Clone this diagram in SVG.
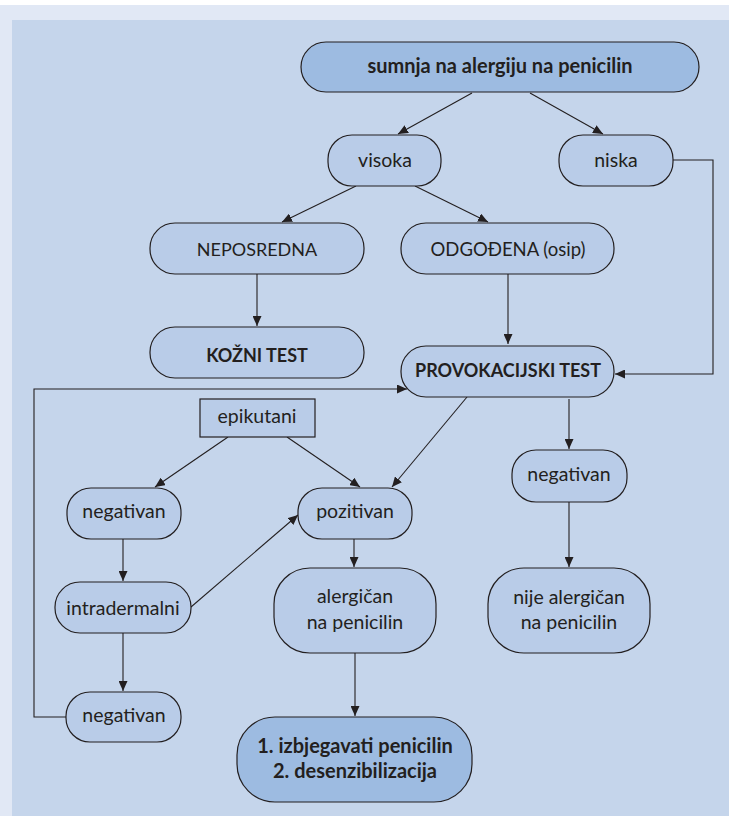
<svg xmlns="http://www.w3.org/2000/svg" width="729" height="816" viewBox="0 0 729 816">
<style>
.n{fill:#b9cce8;stroke:#231f20;stroke-width:1.2}
.d{fill:#9dbbe1;stroke:#231f20;stroke-width:1.2}
.t{font-family:Lato,"Open Sans",sans-serif;font-size:19.5px;fill:#231f20;text-anchor:middle}
.k{font-size:18px}
.b{font-weight:bold;font-size:20px}
.kb{font-weight:bold;font-size:18px}
.c{fill:none;stroke:#231f20;stroke-width:1.1}
</style>
<defs>
<marker id="a" markerUnits="userSpaceOnUse" markerWidth="11" markerHeight="9" refX="10" refY="4.5" orient="auto">
<path d="M0,0 L10,4.5 L0,9 z" fill="#231f20"/>
</marker>
</defs>
<rect x="0" y="0" width="729" height="816" fill="#ffffff"/>
<rect x="0" y="5" width="729" height="811" fill="#e1e8f5"/>
<rect x="12" y="20" width="717" height="796" fill="#c5d5eb"/>

<g id="connectors">
<line class="c" x1="472" y1="93" x2="398" y2="134" marker-end="url(#a)"/>
<line class="c" x1="530" y1="93" x2="603" y2="134" marker-end="url(#a)"/>
<polyline class="c" points="673,160 713,160 713,374 615,374" marker-end="url(#a)"/>
<line class="c" x1="356" y1="186" x2="282" y2="222" marker-end="url(#a)"/>
<line class="c" x1="415" y1="186" x2="488" y2="222" marker-end="url(#a)"/>
<line class="c" x1="257" y1="274" x2="257" y2="326" marker-end="url(#a)"/>
<line class="c" x1="508" y1="274" x2="508" y2="344" marker-end="url(#a)"/>
<polyline class="c" points="66,717 34,717 34,389 407,389" marker-end="url(#a)"/>
<line class="c" x1="228" y1="437" x2="155" y2="487" marker-end="url(#a)"/>
<line class="c" x1="287" y1="437" x2="360" y2="487" marker-end="url(#a)"/>
<line class="c" x1="467" y1="397" x2="392" y2="487" marker-end="url(#a)"/>
<line class="c" x1="569" y1="399" x2="569" y2="449" marker-end="url(#a)"/>
<line class="c" x1="123" y1="539" x2="123" y2="581" marker-end="url(#a)"/>
<line class="c" x1="191" y1="607" x2="298" y2="515" marker-end="url(#a)"/>
<line class="c" x1="354" y1="539" x2="354" y2="567" marker-end="url(#a)"/>
<line class="c" x1="123" y1="633" x2="123" y2="691" marker-end="url(#a)"/>
<line class="c" x1="569" y1="502" x2="569" y2="567" marker-end="url(#a)"/>
<line class="c" x1="355" y1="653" x2="355" y2="716" marker-end="url(#a)"/>
</g>

<g id="sumnja"><rect class="d" x="301" y="42" width="398" height="50" rx="25"/><text class="t b" x="500" y="73">sumnja na alergiju na penicilin</text></g>
<g id="visoka"><rect class="n" x="328" y="135" width="113" height="51" rx="24"/><text class="t" x="385" y="167">visoka</text></g>
<g id="niska"><rect class="n" x="559" y="135" width="114" height="51" rx="24"/><text class="t" x="616" y="167">niska</text></g>
<g id="neposredna"><rect class="n" x="150" y="223" width="214" height="51" rx="25"/><text class="t k" x="257" y="256">NEPOSREDNA</text></g>
<g id="odgodena"><rect class="n" x="401" y="223" width="213" height="51" rx="25"/><text class="t" x="508" y="256" style="font-size:18.5px">ODGOĐENA (osip)</text></g>
<g id="kozni"><rect class="n" x="150" y="327" width="214" height="51" rx="25"/><text class="t kb" x="257" y="362">KOŽNI TEST</text></g>
<g id="provokacijski"><rect class="n" x="401" y="346" width="213" height="51" rx="25"/><text class="t kb" x="508" y="377">PROVOKACIJSKI TEST</text></g>
<g id="epikutani"><rect class="n" x="200" y="399" width="115" height="38"/><text class="t" x="257" y="423">epikutani</text></g>
<g id="negativan1"><rect class="n" x="67" y="488" width="114" height="51" rx="24"/><text class="t" x="124" y="518">negativan</text></g>
<g id="pozitivan"><rect class="n" x="298" y="488" width="114" height="51" rx="24"/><text class="t" x="355" y="518">pozitivan</text></g>
<g id="negativan2"><rect class="n" x="512" y="450" width="115" height="52" rx="24"/><text class="t" x="569" y="481">negativan</text></g>
<g id="intradermalni"><rect class="n" x="55" y="582" width="136" height="51" rx="25"/><text class="t" x="123" y="615">intradermalni</text></g>
<g id="negativan3"><rect class="n" x="66" y="692" width="115" height="50" rx="24"/><text class="t" x="124" y="722">negativan</text></g>
<g id="alergican"><rect class="n" x="274" y="568" width="162" height="85" rx="36"/><text class="t" x="355" y="603">alergičan</text><text class="t" x="355" y="629">na penicilin</text></g>
<g id="nije"><rect class="n" x="488" y="568" width="162" height="85" rx="36"/><text class="t" x="569" y="604">nije alergičan</text><text class="t" x="569" y="629">na penicilin</text></g>
<g id="izbjegavati"><rect class="d" x="237" y="717" width="235" height="85" rx="38"/><text class="t b" x="355" y="753">1. izbjegavati penicilin</text><text class="t b" x="355" y="778">2. desenzibilizacija</text></g>
</svg>
